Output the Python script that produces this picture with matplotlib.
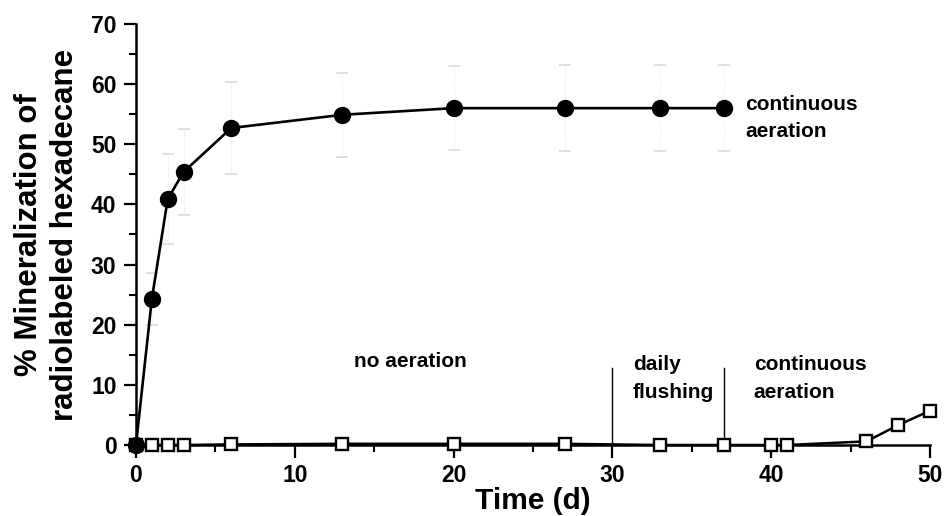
import matplotlib
matplotlib.use("Agg")
import matplotlib.pyplot as plt
from matplotlib.ticker import MultipleLocator

plt.rcParams['font.family'] = ['Liberation Sans', 'DejaVu Sans']

# Continuous aeration (filled circles)
days_cont = [0, 1, 2, 3, 6, 13, 20, 27, 33, 37]
min_cont = [0, 24.3, 40.9, 45.4, 52.7, 54.9, 56.0, 56.0, 56.0, 56.0]
err_cont = [0, 4.3, 7.5, 7.2, 7.7, 7.0, 7.0, 7.2, 7.2, 7.2]

# No aeration / flushing / later aeration (open squares)
days_no = [0, 1, 2, 3, 6, 13, 20, 27, 33, 37, 40, 41, 46, 48, 50]
min_no = [0, 0, 0, 0, 0.1, 0.2, 0.2, 0.2, 0.0, 0.0, 0.0, 0.0, 0.6, 3.3, 5.7]

phase_bounds = [30, 37]
phase_line_top = 12.8

fig = plt.figure(figsize=(9.47, 5.16), dpi=100)
ax = fig.add_axes([0.1436, 0.1376, 0.8384, 0.816])

# error bars (faint)
eb = ax.errorbar(days_cont, min_cont, yerr=err_cont, fmt='none', ecolor='#dddddd',
                 elinewidth=0.6, capsize=4, capthick=1.3, clip_on=False, zorder=2)
for cl in eb[1]:
    cl.set_color('#333333')
for bl in eb[2]:
    bl.set_linestyle(':')

ax.plot(days_no, min_no, color='black', lw=1.8, marker='s', markersize=9,
        markerfacecolor='white', markeredgecolor='black', markeredgewidth=1.7,
        clip_on=False, zorder=3)
ax.plot(days_cont, min_cont, color='black', lw=1.9, marker='o', markersize=11.5,
        markerfacecolor='black', markeredgecolor='black', clip_on=False, zorder=4)

for xb in phase_bounds:
    ax.plot([xb, xb], [0, phase_line_top], color='black', lw=1.0, zorder=1)

ax.set_xlim(0, 50)
ax.set_ylim(0, 70)
ax.xaxis.set_major_locator(MultipleLocator(10))
ax.xaxis.set_minor_locator(MultipleLocator(5))
ax.yaxis.set_major_locator(MultipleLocator(10))
ax.yaxis.set_minor_locator(MultipleLocator(5))
ax.tick_params(which='major', direction='out', length=9, width=1.6, labelsize=16.5, pad=5)
ax.tick_params(which='minor', direction='out', length=5, width=1.5)
for lab in ax.get_xticklabels() + ax.get_yticklabels():
    lab.set_fontweight('bold')

for s in ['top', 'right']:
    ax.spines[s].set_visible(False)
for s in ['left', 'bottom']:
    ax.spines[s].set_linewidth(1.8)

ax.set_xlabel('Time (d)', fontsize=21.5, fontweight='bold', labelpad=0)
ax.set_ylabel('% Mineralization of\nradiolabeled hexadecane', fontsize=22.5,
              fontweight='bold', labelpad=8, linespacing=1.25)

ax.text(38.35, 54.4, 'continuous\naeration', fontsize=15, fontweight='bold',
        va='center', ha='left', linespacing=1.55)
ax.text(17.25, 13.8, 'no aeration', fontsize=15, fontweight='bold', va='center', ha='center')
ax.text(31.3, 11.0, 'daily\nflushing', fontsize=15, fontweight='bold',
        va='center', ha='left', linespacing=1.6)
ax.text(38.9, 11.0, 'continuous\naeration', fontsize=15, fontweight='bold',
        va='center', ha='left', linespacing=1.6)

fig.savefig('out.png', dpi=100)
